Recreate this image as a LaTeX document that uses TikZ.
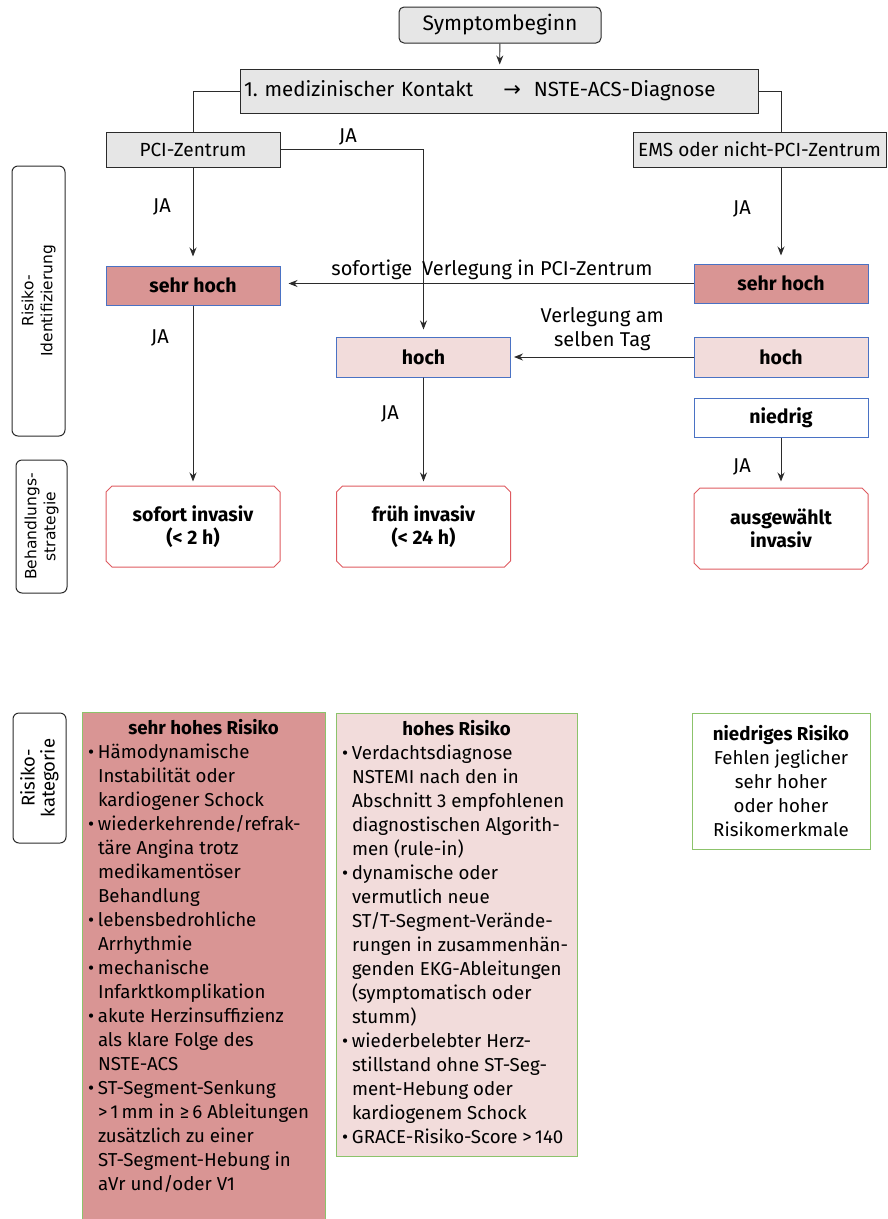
\documentclass[tikz,border=0pt]{standalone}
\usepackage{fontspec}
\setmainfont{Fira Sans}
\newfontfamily\sidefont{DejaVu Sans}
\usetikzlibrary{shapes.misc, arrows.meta, positioning, calc}
\usepackage{xcolor}
\definecolor{BoxGray}{HTML}{E6E6E6}
\definecolor{LineDark}{HTML}{2B2B2B}
\definecolor{FrameBlue}{HTML}{4A72C4}
\definecolor{FrameRed}{HTML}{DE5A60}
\definecolor{FrameGreen}{HTML}{8CC36B}
\definecolor{RiskVeryHigh}{HTML}{D99594}
\definecolor{RiskHigh}{HTML}{F2DCDB}
\newcommand{\riskitem}{\makebox[10pt][l]{•}}
\newcommand{\riskcont}{\hspace*{10pt}}
\tikzset{
    % Box styles
    start/.style={
        rectangle,
        rounded corners=5pt,
        draw=LineDark,
        fill=BoxGray,
        line width=1pt,
        minimum width=202pt,
        minimum height=36pt,
        font=\fontsize{21}{24}\selectfont
    },
    origin/.style={
        rectangle,
        draw=LineDark,
        fill=BoxGray,
        line width=1pt,
        minimum width=174pt,
        minimum height=35pt,
        font=\fontsize{19}{22}\selectfont
    },
    risk/.style={
        rectangle,
        draw=FrameBlue,
        line width=1pt,
        minimum width=174pt,
        minimum height=39pt,
        font=\fontsize{19.5}{22}\selectfont\bfseries
    },
    strategy/.style={
        chamfered rectangle,
        chamfered rectangle xsep=3pt,
        chamfered rectangle ysep=3pt,
        draw=FrameRed,
        line width=1pt,
        minimum width=174pt,
        minimum height=81pt,
        align=center,
        font=\fontsize{19.5}{23.5}\selectfont\bfseries
    },
    category/.style={
        rectangle,
        draw=FrameGreen,
        line width=1pt,
        inner xsep=6pt,
        inner ysep=7pt,
        font=\fontsize{18.7}{24}\selectfont
    },
    sidelabel/.style={
        rectangle,
        rounded corners=6pt,
        draw=LineDark,
        fill=white,
        line width=1pt,
        rotate=90,
        align=center,
        font=\sidefont\fontsize{15.5}{19}\selectfont
    },
    % Arrow styles
    arrow/.style={
        -{Stealth[length=9pt,width=7pt]},
        line width=0.9pt,
        draw=LineDark,
        shorten >=5pt
    },
    line/.style={
        line width=0.9pt,
        draw=LineDark
    },
    yes/.style={
        font=\fontsize{20}{24}\selectfont
    }
}
\begin{document}
\begin{tikzpicture}[x=1pt, y=-1pt]
    \useasboundingbox (0,0) rectangle (888,1219);

    % Start and first contact
    \node[start] (beginn) at (500,25) {Symptombeginn};
    \node[origin, minimum width=517pt, minimum height=44pt, text width=511pt, align=left,
          font=\fontsize{20.5}{24}\selectfont] (kontakt) at (499.5,91)
        {1.\ medizinischer Kontakt\hspace{30pt}{\sidefont\fontsize{21}{21}\selectfont →}\hspace{13pt}NSTE-ACS-Diagnose};
    \draw[arrow, shorten >=4pt] (beginn) -- (kontakt);

    % Where the patient is
    \node[origin] (pci) at (193,149.5) {PCI-Zentrum};
    \node[origin, minimum width=253pt] (ems) at (759.5,149.5) {EMS oder nicht-PCI-Zentrum};

    % Risk identification
    \node[risk, fill=RiskVeryHigh] (shl) at (193,285.5) {sehr hoch};
    \node[risk, fill=RiskVeryHigh] (shr) at (781,283.5) {sehr hoch};
    \node[risk, fill=RiskHigh, minimum height=40pt] (hochm) at (423.5,357) {hoch};
    \node[risk, fill=RiskHigh, minimum height=40pt] (hochr) at (781,357) {hoch};
    \node[risk, fill=white] (niedrig) at (781,417.5) {niedrig};

    % Treatment strategy
    \node[strategy] (sofort) at (193,526.5) {sofort invasiv\\(< 2 h)};
    \node[strategy] (frueh) at (423.5,526.5) {früh invasiv\\(< 24 h)};
    \node[strategy] (ausg) at (781,528.5) {ausgewählt\\invasiv};

    % Connectors
    \draw[line] (kontakt.west) -| (pci.north);
    \draw[line] (kontakt.east) -| (ems.north -| shr);
    \draw[arrow, shorten >=9pt] (pci) -- (shl);
    \draw[arrow, shorten >=8pt] (ems.south -| shr) -- (shr);
    \draw[arrow, shorten >=7pt] (pci.east) -| (hochm.north);
    \draw[arrow, shorten >=8pt] (shr.west) -- (shr.west -| shl.east)
        node[pos=0.5, above=0pt, yes, xshift=5pt] (verl1) {sofortige\hspace{10pt}Verlegung in PCI-Zentrum};
    \draw[arrow, shorten >=3pt] (hochr) -- (hochm)
        node[pos=0.5, above=2pt, yes, align=center] (verl2) {Verlegung am\\selben Tag};
    \draw[arrow, shorten >=4pt] (shl) -- (sofort);
    \draw[arrow, shorten >=4pt] (hochm) -- (frueh);
    \draw[arrow, shorten >=6pt] (niedrig) -- (ausg);

    % Labels
    \node[yes] (ja1) at (348,137) {JA};
    \node[yes] (ja2) at (162,207) {JA};
    \node[yes] (ja3) at (742,209) {JA};
    \node[yes] (ja4) at (160,338) {JA};
    \node[yes] (ja5) at (390,414) {JA};
    \node[yes] (ja6) at (742,467) {JA};

    % Side labels
    \node[sidelabel, minimum width=270pt, minimum height=53pt] (ident) at (38.5,301) {Risiko-\\Identifizierung};
    \node[sidelabel, minimum width=133pt, minimum height=51pt] (behandl) at (41.5,526.5) {Behandlungs-\\strategie};
    \node[sidelabel, minimum width=130pt, minimum height=53pt, font=\fontsize{18.5}{20}\selectfont] (kat) at (39.5,778) {Risiko-\\kategorie};

    % Risk categories
    \node[category, fill=RiskVeryHigh] (cat1) at (203.5,968) {%
        \begin{minipage}[c][498pt][t]{231pt}
        \centering\textbf{sehr hohes Risiko}\par\raggedright
        \riskitem Hämodynamische\\
        \riskcont Instabilität oder\\
        \riskcont kardiogener Schock\\
        \riskitem wiederkehrende/refrak-\\
        \riskcont täre Angina trotz\\
        \riskcont medikamentöser\\
        \riskcont Behandlung\\
        \riskitem lebensbedrohliche\\
        \riskcont Arrhythmie\\
        \riskitem mechanische\\
        \riskcont Infarktkomplikation\\
        \riskitem akute Herzinsuffizienz\\
        \riskcont als klare Folge des\\
        \riskcont NSTE-ACS\\
        \riskitem ST-Segment-Senkung\\
        \riskcont >\,1\,mm in ≥\,6 Ableitungen\\
        \riskcont zusätzlich zu einer\\
        \riskcont ST-Segment-Hebung in\\
        \riskcont aVr und/oder V1
        \end{minipage}};
    \node[category, fill=RiskHigh] (cat2) at (456.5,934.5) {%
        \begin{minipage}[c][429pt][t]{229pt}
        \centering\textbf{hohes Risiko}\par\raggedright
        \riskitem Verdachtsdiagnose\\
        \riskcont NSTEMI nach den in\\
        \riskcont Abschnitt 3 empfohlenen\\
        \riskcont diagnostischen Algorith-\\
        \riskcont men (rule-in)\\
        \riskitem dynamische oder\\
        \riskcont vermutlich neue\\
        \riskcont ST/T-Segment-Verände-\\
        \riskcont rungen in zusammenhän-\\
        \riskcont genden EKG-Ableitungen\\
        \riskcont (symptomatisch oder\\
        \riskcont stumm)\\
        \riskitem wiederbelebter Herz-\\
        \riskcont stillstand ohne ST-Seg-\\
        \riskcont ment-Hebung oder\\
        \riskcont kardiogenem Schock\\
        \riskitem GRACE-Risiko-Score >\,140
        \end{minipage}};
    \node[category, fill=white, minimum width=178pt, minimum height=136pt, align=center] (cat3) at (781,781)
        {\textbf{niedriges Risiko}\\Fehlen jeglicher\\sehr hoher\\oder hoher\\Risikomerkmale};
\end{tikzpicture}
\end{document}
